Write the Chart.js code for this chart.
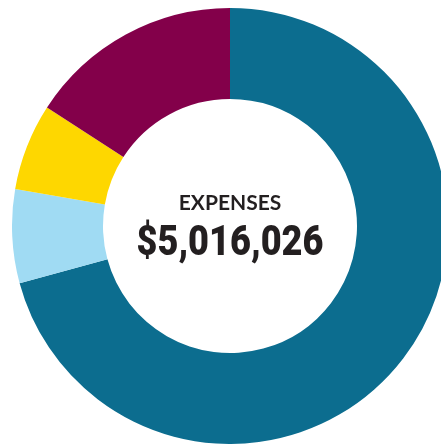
<!DOCTYPE html>
<html>
<head>
<meta charset="utf-8">
<script src="https://cdn.jsdelivr.net/npm/chart.js@4/dist/chart.umd.min.js"></script>
<style>
  html, body { margin: 0; padding: 0; background: #ffffff; overflow: hidden; width: 441px; height: 447px; }
  #wrap { position: absolute; left: 12px; top: 8px; width: 436px; height: 436px; }
  .lbl { position: absolute; left: 0; width: 460px; text-align: center; color: #231f20; white-space: nowrap; }
  #t1 { top: 190.7px; font: bold 21px Lato, sans-serif; line-height: 21px; }
  #t2 { top: 220.3px; font: 900 42px Roboto, sans-serif; line-height: 42px; transform: scaleX(0.86); transform-origin: 230px 0; }
</style>
</head>
<body>
<div id="wrap"><canvas id="c" width="436" height="436"></canvas></div>
<div class="lbl" id="t1">EXPENSES</div>
<div class="lbl" id="t2">$5,016,026</div>
<script>
const categories = ["Category A", "Category B", "Category C", "Category D"];
const values = [3550300, 348300, 322000, 795426];
const colors = ["#0c6d8f", "#a0dbf3", "#fed700", "#83004a"];

new Chart(document.getElementById("c"), {
  type: "doughnut",
  data: {
    labels: categories,
    datasets: [{
      data: values,
      backgroundColor: colors,
      borderWidth: 0,
      hoverOffset: 0
    }]
  },
  options: {
    responsive: false,
    animation: false,
    cutout: 127,
    layout: { padding: 0 },
    plugins: {
      legend: { display: false },
      tooltip: { enabled: false }
    }
  }
});
</script>
</body>
</html>
